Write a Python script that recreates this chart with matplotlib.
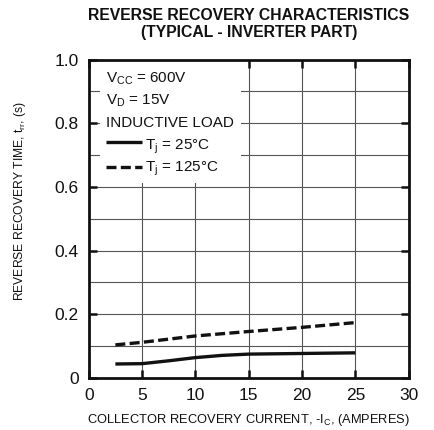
import matplotlib
matplotlib.use("Agg")
import matplotlib.pyplot as plt
from matplotlib.patches import Rectangle

# valores
corrente_25 = [2.5, 5, 7.5, 10, 12.5, 15, 20, 25]
trr_25 = [0.044, 0.045, 0.054, 0.064, 0.071, 0.075, 0.077, 0.079]
corrente_125 = [2.5, 5, 10, 15, 20, 25]
trr_125 = [0.104, 0.112, 0.132, 0.146, 0.159, 0.174]

x_ticks = [0, 5, 10, 15, 20, 25, 30]
y_ticks = [0, 0.2, 0.4, 0.6, 0.8, 1.0]
y_tick_labels = ["0", "0.2", "0.4", "0.6", "0.8", "1.0"]
grade_x = [5, 10, 15, 20, 25]
grade_y = [0.1, 0.2, 0.3, 0.4, 0.5, 0.6, 0.7, 0.8, 0.9]

plt.rcParams['font.family'] = ['Liberation Sans', 'DejaVu Sans']
plt.rcParams['mathtext.fontset'] = 'custom'
plt.rcParams['mathtext.rm'] = 'Liberation Sans'
plt.rcParams['mathtext.it'] = 'Liberation Sans:italic'

fig = plt.figure(figsize=(4.34, 4.30), dpi=100, facecolor='white')
ax = fig.add_axes([88.7 / 434, 1 - 378 / 430, 320 / 434, 318.5 / 430])
ax.set_xlim(0, 30)
ax.set_ylim(0, 1.0)

# grade desenhada à mão para ficar atrás da caixa branca
for gx in grade_x:
    ax.axvline(gx, color='#555555', lw=0.8, zorder=1)
for gy in grade_y:
    ax.axhline(gy, color='#555555', lw=0.8, zorder=1)

ax.add_patch(Rectangle((1.06, 0.612), 13.24, 0.388, facecolor='white',
                       edgecolor='none', zorder=2))

tracejado = (3.0, 1.3)
ax.plot(corrente_25, trr_25, color='#111111', lw=2.4, zorder=3,
        solid_capstyle='butt')
ax.plot(corrente_125, trr_125, color='#111111', lw=2.4, zorder=3,
        dashes=tracejado, dash_capstyle='butt')

# legenda
txt = dict(fontsize=11, color='#111111', zorder=4, va='baseline')
ax.text(1.6, 0.927, r'V$_\mathrm{CC}$ = 600V', **txt)
ax.text(1.6, 0.857, r'V$_\mathrm{D}$ = 15V', **txt)
ax.text(1.6, 0.789, 'INDUCTIVE LOAD', **txt)
ax.plot([1.6, 4.97], [0.742, 0.742], color='#111111', lw=2.4, zorder=4,
        solid_capstyle='butt')
ax.text(5.28, 0.718, r'T$_\mathrm{j}$ = 25°C', **txt)
ax.plot([1.6, 4.97], [0.662, 0.662], color='#111111', lw=2.4, zorder=4,
        dashes=tracejado, dash_capstyle='butt')
ax.text(5.28, 0.648, r'T$_\mathrm{j}$ = 125°C', **txt)

ax.set_xticks(x_ticks)
ax.set_yticks(y_ticks)
ax.set_yticklabels(y_tick_labels)
ax.tick_params(direction='in', length=6, width=1.8, top=True, right=True,
               labelsize=12.5, pad=7, color='#111111', labelcolor='#111111')
for spine in ax.spines.values():
    spine.set_linewidth(2.0)
    spine.set_color('#111111')

ax.set_xlabel(r'COLLECTOR RECOVERY CURRENT, -I$_\mathrm{C}$, (AMPERES)',
              fontsize=9.3, color='#111111')
ax.xaxis.set_label_coords(0.5, -0.107)
ax.xaxis.label.set_va('top')
ax.set_ylabel(r'REVERSE RECOVERY TIME, t$_\mathrm{rr}$, (s)',
              fontsize=8.7, color='#111111')
ax.yaxis.set_label_coords(-0.19, 0.557)

fig.text(249 / 434, 1 - 16 / 430, 'REVERSE RECOVERY CHARACTERISTICS',
         ha='center', va='center', fontsize=11.3, fontweight='bold',
         color='#111111')
fig.text(249 / 434, 1 - 32 / 430, '(TYPICAL - INVERTER PART)',
         ha='center', va='center', fontsize=11.3, fontweight='bold',
         color='#111111')

fig.savefig('out.png', dpi=100, facecolor='white')
